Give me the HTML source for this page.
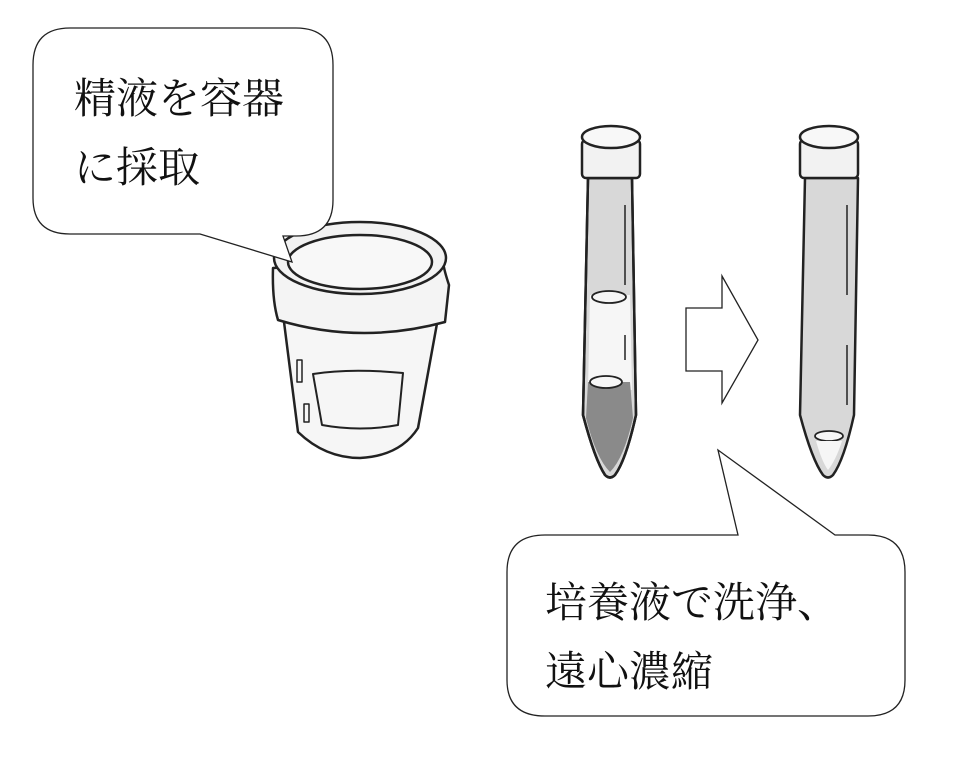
<!DOCTYPE html>
<html><head><meta charset="utf-8"><style>
html,body{margin:0;padding:0;background:#fff}
svg{display:block}
text{font-family:"Liberation Serif","Noto Serif CJK SC",serif;font-size:42px;fill:#111}
</style></head><body>
<svg width="960" height="760" viewBox="0 0 960 760">
<!-- cup -->
<g stroke="#222" stroke-width="2.5" fill="#f6f6f6" stroke-linejoin="round">
<path d="M284,322 L298,432 Q325,458 360,458 Q400,456 418,428 L438,318 Z"/>
<path d="M273,268 Q272,300 278,320 Q360,345 445,322 L449,285 Q440,258 445,258 Z" fill="#f4f4f4"/>
<ellipse cx="360" cy="258" rx="86" ry="36" fill="#f2f2f2"/>
<ellipse cx="360" cy="262" rx="72" ry="27" fill="#f8f8f8"/>
<path d="M313,374 Q350,368 403,373 L398,425 Q360,432 322,425 Z" fill="#f6f6f6" stroke-width="2"/>
<rect x="297" y="360" width="5" height="22" fill="none" stroke-width="1.5"/>
<rect x="304" y="404" width="5" height="18" fill="none" stroke-width="1.5"/>
</g>
<!-- callout 1 -->
<path d="M70,28 H296 Q333,28 333,65 V200 Q333,236 296,236 H283 L292,262 L200,234 H70 Q33,234 33,198 V65 Q33,28 70,28 Z" fill="#fff" stroke="#222" stroke-width="1.3"/>
<text x="74" y="113">精液を容器</text>
<text x="74" y="182">に採取</text>
<!-- tube 1 -->
<g stroke="#222" stroke-width="2.5" stroke-linejoin="round">
<path d="M588,178 L583,415 Q595,460 605,475 Q610,480 615,475 Q626,460 636,415 L632,178 Z" fill="#d8d8d8"/>
<path d="M590,295 L588,390 L632,390 L630,295 Z" fill="#f6f6f6" stroke="none"/>
<path d="M588,382 L586,418 Q596,458 610,472 Q624,458 633,418 L630,382 Z" fill="#8a8a8a" stroke="none"/>
<path d="M588,178 L583,415 Q595,460 605,475 Q610,480 615,475 Q626,460 636,415 L632,178 Z" fill="none"/>
<ellipse cx="609" cy="297" rx="17" ry="6" fill="#f6f6f6" stroke-width="1.8"/>
<ellipse cx="606" cy="382" rx="16" ry="6" fill="#f6f6f6" stroke-width="1.8"/>
<rect x="582" y="140" width="58" height="38" rx="4" fill="#f2f2f2"/>
<ellipse cx="611" cy="137" rx="29" ry="11" fill="#f8f8f8"/>
<path d="M625,205 V285 M625,335 V360" stroke-width="1.5" fill="none"/>
</g>
<!-- arrow -->
<path d="M686,308 H722 V276 L758,340 L722,403 V371 H686 Z" fill="#fff" stroke="#222" stroke-width="1.3"/>
<!-- tube 2 -->
<g stroke="#222" stroke-width="2.5" stroke-linejoin="round">
<path d="M805,178 L800,415 Q812,460 823,475 Q828,480 833,475 Q844,460 854,415 L858,178 Z" fill="#d8d8d8"/>
<ellipse cx="829" cy="436" rx="14" ry="5" fill="#f6f6f6" stroke-width="1.8"/>
<path d="M816,441 Q822,462 828,470 Q836,460 842,441 Z" fill="#f6f6f6" stroke="none"/>
<rect x="800" y="140" width="58" height="38" rx="4" fill="#f2f2f2"/>
<ellipse cx="829" cy="137" rx="29" ry="11" fill="#f8f8f8"/>
<path d="M847,205 V295 M847,345 V405" stroke-width="1.5" fill="none"/>
</g>
<!-- callout 2 -->
<path d="M545,535 H738 L718,450 L835,535 H868 Q905,535 905,572 V680 Q905,716 868,716 H545 Q507,716 507,680 V572 Q507,535 545,535 Z" fill="#fff" stroke="#222" stroke-width="1.3"/>
<text x="545" y="617">培養液で洗浄、</text>
<text x="545" y="686">遠心濃縮</text>
</svg>
</body></html>
